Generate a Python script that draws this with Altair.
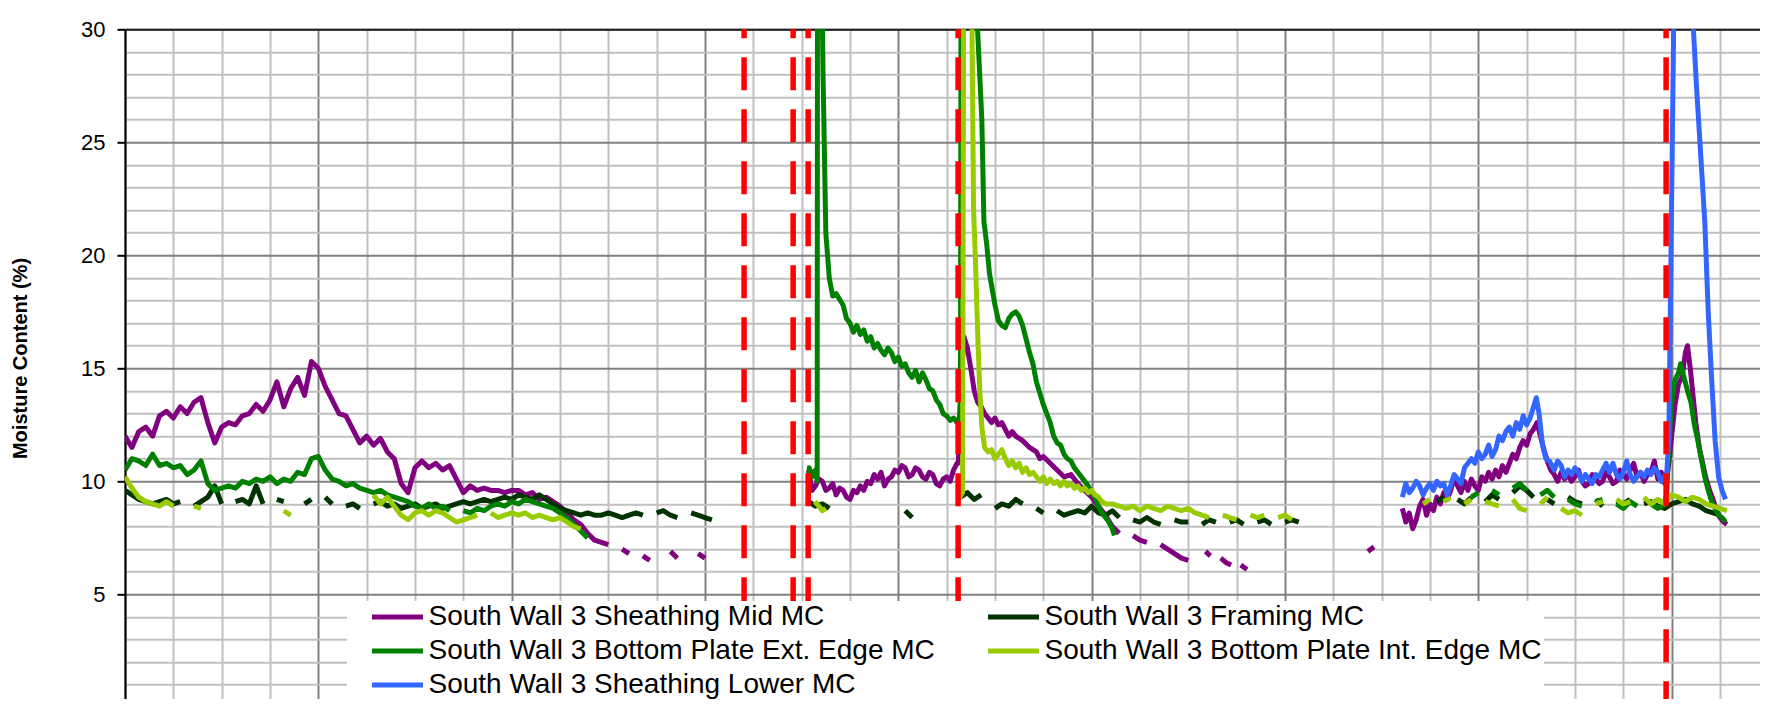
import altair as alt
import pandas as pd

# ---------------- series definitions ----------------
SERIES = [
    "South Wall 3 Sheathing Mid MC",
    "South Wall 3 Framing MC",
    "South Wall 3 Bottom Plate Ext. Edge MC",
    "South Wall 3 Bottom Plate Int. Edge MC",
    "South Wall 3 Sheathing Lower MC",
]
COLORS = ["#800080", "#003300", "#008000", "#99cc00", "#3366ff"]

# vertical event markers (day numbers)
EVENT_DAYS = [89.66, 96.77, 98.94, 120.66, 223.2]

# ---------------- helpers to assemble readings ----------------
def run(start, step, vals):
    return [(start + i * step, v) for i, v in enumerate(vals)]

def pts(days, vals):
    return list(zip(days, vals))

# ---- Sheathing Mid MC (purple) ----
mid_a = run(0, 1, [12.0, 11.5, 12.2, 12.4, 12.0, 12.9, 13.1, 12.8, 13.3, 13.0, 13.5, 13.7, 12.6, 11.7, 12.4,
                   12.6, 12.5, 12.9, 13.0, 13.4, 13.1, 13.6, 14.4, 13.3, 14.1, 14.6, 13.8, 15.3, 15.0, 14.2,
                   13.6, 13.0, 12.9, 12.3, 11.7, 12.0, 11.6, 11.9, 11.3, 11.0, 9.9, 9.5, 10.6, 10.9, 10.6,
                   10.8, 10.5, 10.7, 10.1, 9.5, 9.8, 9.6, 9.7, 9.6, 9.6, 9.5, 9.6, 9.6, 9.4, 9.5, 9.2, 9.3,
                   9.1, 8.9, 8.6, 8.3, 8.1, 7.7, 7.4, 7.3, 7.2, None, 7.0, 6.8, None, 6.7, 6.5, None, None,
                   6.9, 6.6, None, None, 6.8, 6.6])
mid_b = (run(99.0, 0.5, [10.5, 9.6, 9.8, 10.1, 10.0, 9.6, 9.7, 9.9, 9.4, 9.7, 9.6, 9.3, 9.2, 9.6, 9.5, 9.8,
                         9.6, 10.0, 9.9, 10.3, 10.1, 10.4, 9.8, 10.1, 10.2, 10.5, 10.4, 10.7, 10.6, 10.2,
                         10.3, 10.6, 10.5, 10.2, 10.1, 10.4, 10.3, 9.9, 9.8, 10.1, 10.2, 10.0, 10.5, 10.8])
         + pts([120.7, 121.0, 121.5, 122.0, 122.5, 123.0, 123.5, 124.0, 124.5, 125.0, 125.5, 126.0, 126.5,
                127.0, 127.5, 128.0, 128.5, 129.0, 130.0, 131.0, 132.0, 132.5, 133.0, 134.0, 135.0, 136.0,
                137.0, 138.0, 139.0, 140.0, 141.0, 142.0, 143.0, 144.0],
               [10.8, 14.0, 16.4, 15.9, 15.0, 14.0, 13.5, 13.3, 13.0, 12.8, 12.6, 12.8, 12.5, 12.6, 12.3,
                12.0, 12.2, 12.0, 11.8, 11.5, 11.3, 11.0, 11.1, 10.8, 10.5, 10.2, 10.3, 9.9, 9.6, 9.3, 8.9,
                8.5, 8.0, 7.7]))
mid_c = pts([146, 147, 148, None, 150, 151, 152, 153, 154, None, 156.5, 157.2, None, 158.7, 159.5, 160.2,
             None, 161.6, 162.5, None, 180.0, 180.9],
            [7.6, 7.4, 7.3, None, 7.2, 7.0, 6.8, 6.6, 6.5, None, 6.9, 6.7, None, 6.6, 6.4, 6.3, None, 6.3,
             6.1, None, 6.9, 7.1])
mid_d = (run(185.0, 0.5, [8.8, 8.2, 8.6, 7.9, 8.3, 8.9, 9.2, 8.5, 9.0, 8.7, 9.3, 9.0, 9.5, 9.2, 9.6, 10.2,
                          9.8, 9.5, 10.0, 9.6, 10.1, 9.8, 9.6, 10.2, 10.0, 10.4, 10.1, 10.5, 10.2, 10.7,
                          10.4, 10.8, 11.2, 11.0, 11.5, 11.8, 11.6, 12.1, 12.3, 12.6, 12.0, 11.4, 10.9, 10.5,
                          10.3, 10.0, 10.4, 10.1, 10.3, 10.0, 10.2, 10.5, 10.0, 9.8, 9.9, 10.3, 10.1, 9.9,
                          10.0, 10.4, 10.2, 9.9, 10.0, 10.5, 10.3, 10.1, 10.5, 10.8, 10.2, 10.4, 10.0, 10.3,
                          10.4, 10.9, 10.1, 10.4, 9.9])
         + pts([223.3, 223.6, 224.0, 224.5, 225.0, 225.5, 226.0, 226.3, 226.7, 227.1, 227.5, 228.0, 228.5,
                229.0, 229.5, 230.0, 230.5, 231.0, 231.5, 232.0],
               [10.2, 10.8, 12.0, 13.4, 14.3, 14.6, 15.7, 16.0, 15.0, 13.8, 12.6, 11.5, 10.8, 10.1, 9.6,
                9.2, 8.7, 8.4, 8.2, 8.1]))

# ---- Framing MC (dark green) ----
frm_a = run(0, 1, [9.6, 9.4, 9.2, 9.1, 9.0, 9.1, 9.2, 9.0, 9.1, None, 8.9, 9.1, 9.3, 9.8, 9.0, None, 9.1, 9.2,
                   9.0, 9.8, 9.0, None, 9.2, 9.1, None, None, 9.0, 9.2, None, 9.3, 9.0, None, 8.9, 9.0,
                   8.8, None, 9.0, 9.1, 8.9, 9.0, 8.8, 8.9, 9.0, 8.8, 8.9, 9.0, 8.8, 8.9, 9.0, 9.1, 9.0,
                   9.1, 9.2, 9.1, 9.2, 9.3, 9.2, 9.4, 9.3, 9.2, 9.4, 9.2, 9.0, 8.8, 8.7, 8.6, 8.5, 8.6,
                   8.5, 8.5, 8.6, 8.5, 8.4, 8.5, 8.6, 8.5, None, 8.6, 8.7, 8.5, 8.4, None, 8.6, 8.5, 8.4,
                   8.3])
frm_b = pts([99, 100, 101, 102, None, 113, 114], [9.1, 8.9, 9.0, 8.8, None, 8.7, 8.4])
frm_c = run(121, 1, [9.3, 9.5, 9.2, 9.4, None, 8.8, 9.0, 8.9, 9.2, 9.0, None, 8.8, 8.6, None, 8.7, 8.5, 8.6,
                     8.7, 8.6, 8.9, 8.6, 8.5, 8.7, 8.4, None, 8.3, 8.2, 8.4, 8.2, 8.1, None, 8.3, 8.2, 8.2,
                     None, 8.1, 8.3, 8.2, None, 8.2, 8.3, 8.1, None, 8.2, 8.3, 8.1, None, 8.2, 8.3, 8.2])
frm_d = run(190, 1, [9.1, 9.3, None, 9.2, 9.0, 9.3, None, 9.1, 9.4, 9.2, None, 9.5, 9.8, 9.6, 9.3, None,
                     9.2, 9.0, None, 9.3, 9.1, 9.0, None, 9.2, 8.9, None, 9.1, 9.0, 9.2, None, 9.0, 9.1,
                     8.9, 8.8, 9.0, 9.1, 9.2, 9.0, 8.9, 8.7, 8.6, 8.5])

# ---- Bottom Plate Ext. Edge MC (green) ----
ext_a = run(0, 1, [10.5, 11.0, 10.9, 10.7, 11.2, 10.7, 10.8, 10.6, 10.7, 10.3, 10.5, 10.9, 9.9, 9.6, 9.7,
                   9.8, 9.7, 10.0, 9.9, 10.1, 10.0, 10.2, 9.9, 10.1, 10.0, 10.4, 10.3, 11.0, 11.1, 10.5,
                   10.1, 10.0, 9.8, 9.9, 9.7, 9.6, 9.5, 9.6, 9.4, 9.3, 9.2, 9.1, 8.9, 8.8, 9.0, 8.8, 8.9,
                   8.7, None, 8.7, 8.6, 8.8, 8.7, 8.9, 9.0, 8.9, 9.1, 9.0, 9.2, 9.1, 9.0, 8.9, 8.8, 8.6,
                   8.4, 8.1, 7.8, 7.5])
ext_b = (pts([98.95, 99.1, 99.5, 100.0, 100.25, 100.3, 100.9, 101.1, 101.5, 102.0, 102.5, 103.0, 103.6,
              104.0],
             [9.0, 10.6, 10.2, 10.5, 10.0, 36.0, 33.0, 28.0, 21.0, 19.0, 18.2, 18.3, 18.0, 17.8])
         + run(104.5, 0.5, [17.2, 17.0, 16.6, 16.9, 16.5, 16.7, 16.2, 16.4, 15.9, 16.1, 15.8, 15.6, 15.9,
                            15.7, 15.3, 15.5, 15.1, 15.2, 14.8, 14.6, 14.9, 14.4, 14.8, 14.5, 14.1, 14.0,
                            13.6, 13.4, 13.0, 12.9, 12.7, 12.8, 12.6])
         + pts([120.7, 121.0, 121.1, 123.3, 123.4, 124.1, 124.4, 124.8, 125.2, 125.6, 126.0, 126.5, 127.0,
                127.5, 128.0, 128.5, 129.0, 129.5, 130.0, 130.5, 131.0, 131.5, 132.0, 132.5, 133.0, 133.5,
                134.0, 134.5, 135.0, 135.5, 136.0, 136.5, 137.0, 137.5, 138.0, 138.5, 139.0, 139.5, 140.0,
                140.5, 141.0, 141.5, 142.0, 142.5, 143.0, 143.3],
               [12.7, 13.0, 36.0, 36.0, 30.5, 26.0, 21.5, 20.5, 19.2, 18.5, 17.8, 17.1, 16.9, 16.8, 17.2,
                17.4, 17.5, 17.3, 16.9, 16.3, 15.7, 15.2, 14.4, 13.9, 13.4, 13.0, 12.6, 12.0, 11.7, 11.6,
                11.2, 11.0, 10.9, 10.6, 10.4, 10.2, 10.0, 9.8, 9.5, 9.3, 8.9, 8.6, 8.4, 8.2, 7.9, 7.6]))
ext_c = (run(195, 1, [9.3, 9.5, None, 9.6, 9.4, None, 9.7, 9.9, 9.6, None, 9.4, 9.6, 9.3, None, 9.2, 9.0,
                      8.9, None, 9.1, 9.2, None, 9.0, 8.8, 9.1, 8.9, None, 9.0, 8.8, 9.0])
         + pts([223.3, 223.6, 224.0, 224.5, 225.0, 225.3, 225.8, 226.3, 226.8, 227.3, 227.8, 228.3, 228.8,
                229.3, 229.8, 230.3, 230.8, 231.3, 231.8],
               [9.5, 11.5, 13.5, 14.5, 14.8, 15.2, 14.6, 14.0, 13.5, 12.5, 11.8, 11.0, 10.2, 9.6, 9.1, 8.8,
                8.5, 8.4, 8.2]))

# ---- Bottom Plate Int. Edge MC (yellow green) ----
int_a = run(0, 1, [10.2, 9.7, 9.3, 9.1, 9.0, 8.9, 9.1, 8.9])
int_b = run(10, 1, [8.9, 8.8])
int_c = run(23, 1, [8.7, 8.5])
int_d = run(36, 1, [9.4, 9.0, 9.3, 8.9, 8.5, 8.3, 8.6, 8.7, 8.5, 8.7, 8.6, 8.4, 8.2, 8.3, 8.4, 8.5, None,
                    8.6, 8.4, 8.5, 8.6, 8.5, 8.6, 8.4, 8.5, 8.4, 8.3, 8.4, 8.2, 8.0, 7.9])
int_e = pts([99.9, 100.5, 101.0, 101.5], [9.1, 8.9, 8.7, 8.8])
int_f = (pts([120.7, 121.3, 121.5, 122.5, 122.9, 123.2, 123.5, 123.8, 124.1, 124.5],
             [9.2, 9.5, 36.0, 36.0, 22.0, 19.5, 16.5, 14.0, 12.4, 11.5])
         + run(125, 0.5, [11.3, 11.4, 11.0, 11.2, 11.4, 11.0, 10.7, 10.9, 10.6, 10.8, 10.4, 10.6, 10.3, 10.4,
                          10.2, 10.0, 10.2, 9.9, 10.1, 9.9, 10.0, 9.8, 10.0, 9.8, 9.9, 9.7, 9.8, 9.6, 9.7,
                          9.5, 9.6, 9.4, 9.3, 9.1, 9.0])
         + run(143, 1, [9.0, 8.9, 8.8, 8.9, 8.7, 8.9, 8.8, 8.7, 8.9, 8.8, 8.7, 8.8, 8.6, 8.5, 8.4, None, 8.5,
                        8.4, 8.3, None, 8.5, 8.4, 8.5, None, 8.4, 8.5, 8.3]))
int_g = run(188, 1, [9.0, 9.2, None, 9.1, 9.3, None, 9.0, 9.2, None, 9.1, 9.0, 8.9, None, 9.2, 8.8, 8.7, None,
                     9.0, 9.3, None, 8.8, 8.6, 8.7, 8.5, None, 9.0, 9.1, None, 9.2, 9.0, 9.1, None, 9.3,
                     9.0, 9.2, 9.0, 9.4, 9.3, 9.1, 9.3, 9.2, 9.0, 8.9, 8.8, 8.7])

# ---- Sheathing Lower MC (blue) ----
low_a = (run(185, 0.5, [9.3, 9.9, 9.5, 9.7, 10.0, 9.8, 9.4, 9.7, 9.9, 9.6, 10.0, 9.8, 9.9, 9.4, 9.8, 10.3,
                        10.1, 9.9, 10.6, 10.8, 11.0, 10.8, 11.3, 11.0, 11.2, 11.6, 11.1, 11.4, 12.0, 11.8,
                        12.2, 12.4, 12.0, 12.6, 12.3, 12.9, 12.5, 12.8, 13.3])
         + pts([204.4, 204.8, 205.3, 205.8, 206.3], [13.7, 13.0, 11.6, 11.0, 10.9])
         + run(207, 0.5, [10.5, 10.9, 10.7, 10.2, 10.5, 10.3, 10.6, 10.4, 10.0, 10.3, 10.1, 9.9, 10.3, 10.2,
                          10.5, 10.8, 10.4, 10.8, 10.3, 10.1, 10.4, 10.9, 10.3, 10.0, 10.2, 10.4, 10.2, 10.5,
                          10.3, 10.6, 10.4, 10.0, 10.2])
         + pts([223.3, 223.6, 224.3, 224.6, 225.5, 226.6, 227.1, 227.6, 228.2, 228.8, 229.3, 229.8, 230.3,
                230.8, 231.3, 231.8],
               [10.4, 12.0, 30.2, 36.0, 39.0, 36.0, 30.3, 27.5, 24.5, 21.5, 17.5, 14.5, 11.8, 10.2, 9.6,
                9.2]))

PIECES = {
    SERIES[0]: [mid_a, mid_b, mid_c, mid_d],
    SERIES[1]: [frm_a, frm_b, frm_c, frm_d],
    SERIES[2]: [ext_a, ext_b, ext_c],
    SERIES[3]: [int_a, int_b, int_c, int_d, int_e, int_f, int_g],
    SERIES[4]: [low_a],
}

# ---------------- build long table, splitting at gaps ----------------
rows = []
seg_id = 0
for name in SERIES:
    for piece in PIECES[name]:
        current = []
        for d, v in piece + [(None, None)]:
            if d is None or v is None:
                if len(current) >= 2:
                    for dd, vv in current:
                        rows.append({"day": dd, "mc": vv, "series": name, "seg": seg_id})
                    seg_id += 1
                current = []
            else:
                current.append((d, v))
df = pd.DataFrame(rows)
events = pd.DataFrame({"day": EVENT_DAYS})

# ---------------- scales / axes ----------------
X_MAX = 236.8
Y_MIN = 0.37
Y_TICKS = list(range(1, 31))
x_scale = alt.Scale(domain=[0, X_MAX], nice=False, zero=False)
y_scale = alt.Scale(domain=[Y_MIN, 30], nice=False, zero=False)

FONT = "Liberation Sans"

x_axis = alt.Axis(
    orient="top", values=list(range(0, 232, 7)), grid=True,
    gridColor={"condition": {"test": "datum.value % 28 === 0", "value": "#808080"}, "value": "#c0c0c0"},
    gridWidth=2, domain=True, domainColor="#202020", domainWidth=2,
    ticks=False, labels=False, title=None,
)
y_axis = alt.Axis(
    values=Y_TICKS, grid=True,
    gridColor={"condition": {"test": "datum.value % 5 === 0", "value": "#808080"}, "value": "#c0c0c0"},
    gridWidth=2, domain=True, domainColor="#000000", domainWidth=2,
    ticks=True, tickSize=8, tickWidth=2, tickColor="#000000",
    tickOpacity={"condition": {"test": "datum.value % 5 === 0", "value": 1}, "value": 0},
    labelExpr="datum.value % 5 === 0 ? datum.label : ''", labelOverlap=False, labelBound=False,
    labelFont=FONT, labelFontSize=22, labelColor="#000000", labelPadding=12,
    title="Moisture Content (%)", titleFont=FONT, titleFontSize=20, titleFontWeight="bold",
    titleColor="#000000", titleAngle=270, titleAlign="center", titleBaseline="middle",
    titleX=-105, titleY=328.7,
)

# legend order for column-major layout: left column then right column
LEGEND_ORDER = [SERIES[0], SERIES[2], SERIES[4], SERIES[1], SERIES[3]]
LEGEND_COLORS = [COLORS[SERIES.index(s)] for s in LEGEND_ORDER]

legend = alt.Legend(
    title=None, orient="none", legendX=222, legendY=571.7, direction="vertical", columns=2,
    symbolType="M-2.55,0H2.55", symbolSize=400, symbolStrokeWidth=5, symbolOffset=34.5,
    labelFont=FONT, labelFontSize=28, labelColor="#000000", labelOffset=17, labelLimit=2000,
    rowPadding=6, columnPadding=30, padding=2, fillColor="#ffffff", zindex=1,
)

lines = alt.Chart(df).mark_line(strokeWidth=5, clip=True, strokeJoin="round").encode(
    x=alt.X("day:Q", scale=x_scale, axis=x_axis),
    y=alt.Y("mc:Q", scale=y_scale, axis=y_axis),
    color=alt.Color("series:N", scale=alt.Scale(domain=LEGEND_ORDER, range=LEGEND_COLORS), legend=legend),
    detail="seg:N",
)

red = alt.Chart(events).mark_rule(
    color="#ff0000", strokeWidth=5.5, strokeDash=[33, 19], strokeDashOffset=24
).encode(
    x=alt.X("day:Q", scale=x_scale, axis=x_axis),
    y=alt.YDatum(30, scale=y_scale, axis=y_axis),
    y2=alt.datum(Y_MIN),
)

chart = alt.layer(lines, red).properties(
    width=1635, height=669.7,
    autosize=alt.AutoSizeParams(type="none"),
    padding={"left": 117, "top": 21.3, "right": 0, "bottom": 0},
    background="#ffffff",
).configure_view(stroke=None).configure_axis(labelOverlap=False)

chart.save("out.html", embed_options={"renderer": "svg", "actions": False})
